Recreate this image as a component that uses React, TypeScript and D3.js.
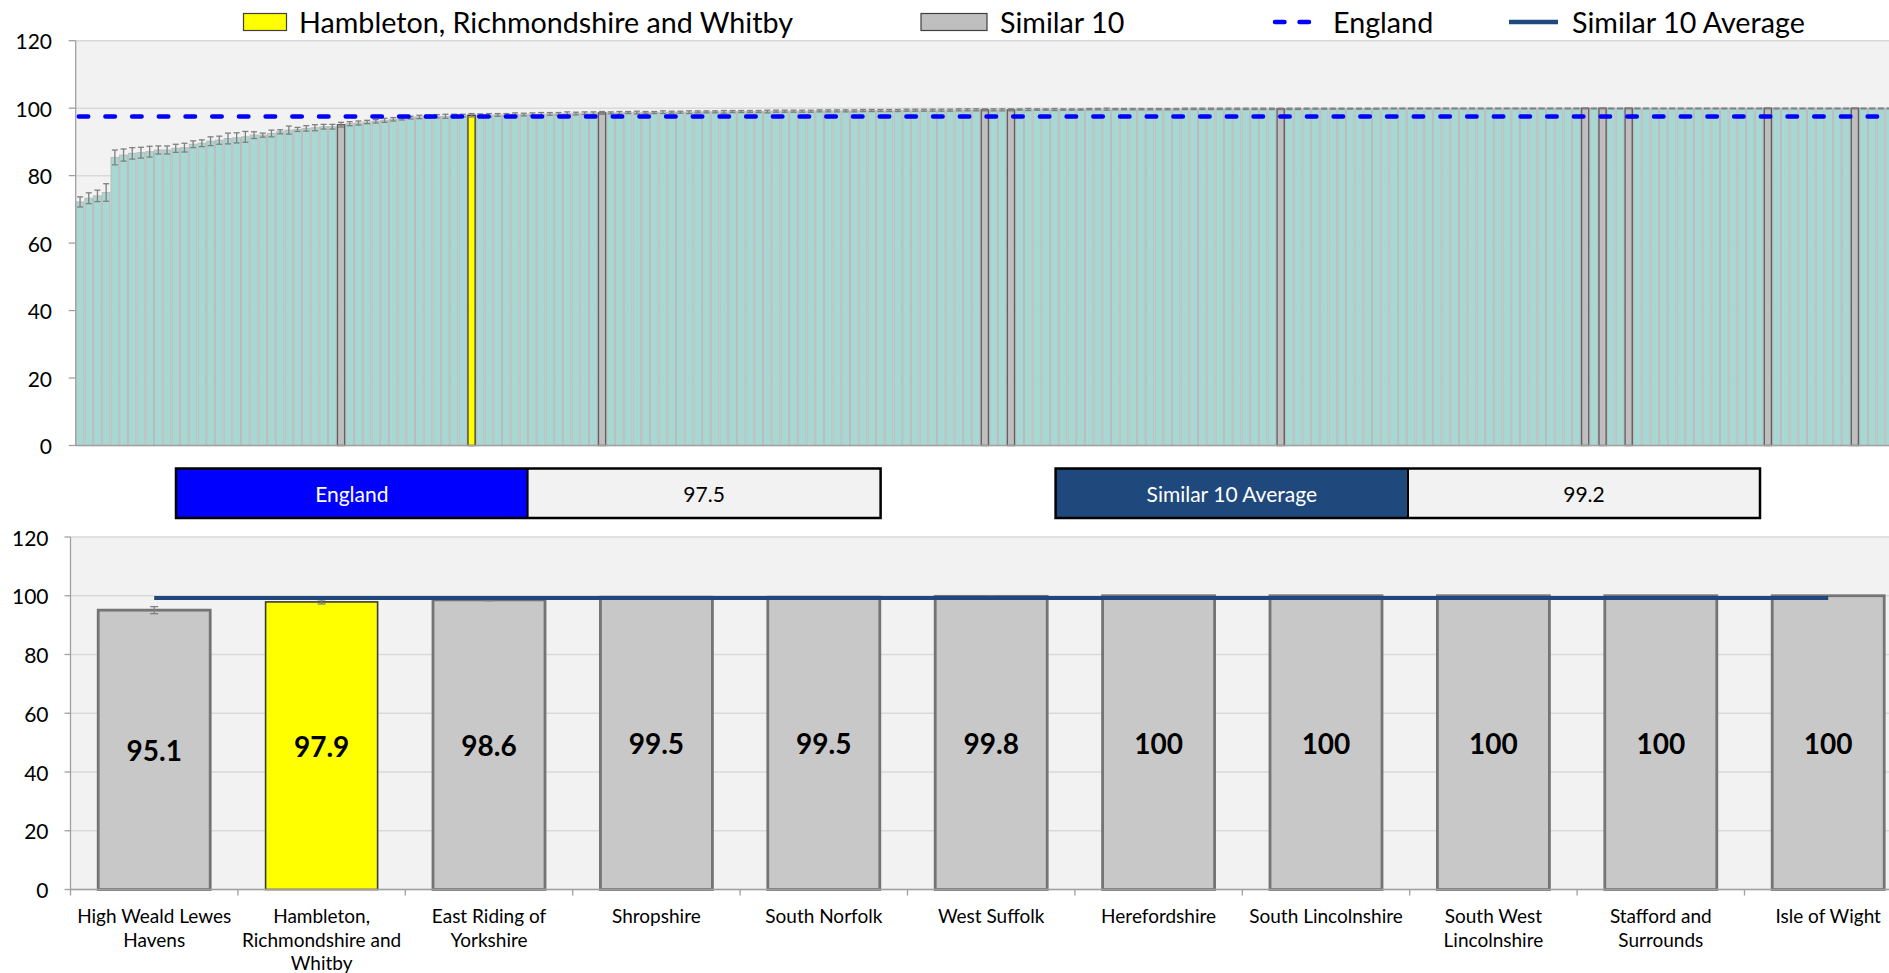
import React from "react";
import * as d3 from "d3";

// ---------- DATA ----------
// Top chart: all areas ranked (values in %)
const topValues: number[] = [
  72.2, 73.3, 74.0, 75.0, 85.4, 86.1, 86.6, 86.8, 87.1, 87.6,
  87.6, 88.1, 88.3, 89.3, 89.6, 90.2, 90.5, 91.0, 91.2, 91.5,
  92.0, 92.0, 92.5, 93.0, 93.5, 93.7, 94.0, 94.2, 94.5, 94.5,
  95.1, 95.4, 95.6, 95.9, 96.1, 96.4, 96.7, 97.0, 97.2, 97.4,
  97.5, 97.6, 97.6, 97.7, 97.8, 97.9, 97.9, 97.9, 98.0, 98.0,
  98.1, 98.1, 98.2, 98.2, 98.3, 98.3, 98.4, 98.4, 98.5, 98.5,
  98.6, 98.6, 98.6, 98.7, 98.7, 98.7, 98.7, 98.8, 98.8, 98.8,
  98.8, 98.9, 98.9, 98.9, 98.9, 99.0, 99.0, 99.0, 99.0, 99.0,
  99.1, 99.1, 99.1, 99.1, 99.1, 99.2, 99.2, 99.2, 99.2, 99.2,
  99.3, 99.3, 99.3, 99.3, 99.3, 99.4, 99.4, 99.4, 99.4, 99.4,
  99.4, 99.5, 99.5, 99.5, 99.5, 99.5, 99.5, 99.5, 99.6, 99.6,
  99.6, 99.6, 99.6, 99.6, 99.6, 99.6, 99.7, 99.7, 99.7, 99.7,
  99.7, 99.7, 99.7, 99.7, 99.7, 99.7, 99.7, 99.8, 99.8, 99.8,
  99.8, 99.8, 99.8, 99.8, 99.8, 99.8, 99.8, 99.8, 99.8, 99.8,
  99.8, 99.9, 99.9, 99.9, 99.9, 99.9, 99.9, 99.9, 99.9, 99.9,
  100, 100, 100, 100, 100, 100, 100, 100, 100, 100,
  100, 100, 100, 100, 100, 100, 100, 100, 100, 100,
  100, 100, 100, 100, 100, 100, 100, 100, 100, 100,
  100, 100, 100, 100, 100, 100, 100, 100, 100, 100,
  100, 100, 100, 100, 100, 100, 100, 100, 100, 100,
  100, 100, 100, 100, 100, 100, 100, 100, 100,
];

// Confidence interval half-widths for top chart
const topErr: number[] = [
  1.5, 1.6, 1.7, 2.6, 2.2, 1.8, 1.7, 1.6, 1.6, 1.2,
  1.2, 1.2, 1.3, 1.0, 1.0, 1.3, 1.2, 1.6, 1.5, 1.6,
  1.0, 0.6, 1.0, 0.6, 1.2, 0.6, 0.8, 0.9, 0.7, 0.7,
  0.7, 0.6, 0.6, 0.5, 0.5, 0.6, 0.5, 0.5, 0.4, 0.5,
  0.4, 0.5, 0.6, 0.5, 0.4, 0.5, 0.4, 0.5, 0.4, 0.4,
  0.5, 0.4, 0.4, 0.5, 0.4, 0.4, 0.5, 0.4, 0.4, 0.4,
  0.4, 0.3, 0.4, 0.3, 0.4, 0.3, 0.3, 0.4, 0.3, 0.3,
  0.4, 0.3, 0.3, 0.3, 0.4, 0.3, 0.3, 0.3, 0.3, 0.4,
  0.3, 0.3, 0.3, 0.3, 0.3, 0.3, 0.3, 0.3, 0.3, 0.3,
  0.3, 0.3, 0.3, 0.3, 0.3, 0.3, 0.3, 0.3, 0.3, 0.3,
  0.3, 0.3, 0.3, 0.3, 0.3, 0.3, 0.3, 0.3, 0.2, 0.3,
  0.2, 0.2, 0.3, 0.2, 0.2, 0.2, 0.2, 0.2, 0.3, 0.2,
  0.2, 0.2, 0.2, 0.2, 0.2, 0.2, 0.2, 0.2, 0.2, 0.2,
  0.2, 0.2, 0.2, 0.2, 0.2, 0.2, 0.2, 0.2, 0.2, 0.2,
  0.2, 0.2, 0.2, 0.2, 0.2, 0.2, 0.2, 0.2, 0.2, 0.2,
  0.2, 0.2, 0.2, 0.2, 0.2, 0.2, 0.2, 0.2, 0.2, 0.2,
  0.2, 0.2, 0.2, 0.2, 0.2, 0.2, 0.2, 0.2, 0.2, 0.2,
  0.2, 0.2, 0.2, 0.2, 0.2, 0.2, 0.2, 0.2, 0.2, 0.2,
  0.2, 0.2, 0.2, 0.2, 0.2, 0.2, 0.2, 0.2, 0.2, 0.2,
  0.2, 0.2, 0.2, 0.2, 0.2, 0.2, 0.2, 0.2, 0.2, 0.2,
  0.2, 0.2, 0.2, 0.2, 0.2, 0.2, 0.2, 0.2, 0.2,
];

// Ranks of the "Similar 10" areas and the highlighted area in the top chart
const similarRanks: number[] = [30, 60, 104, 107, 138, 173, 175, 178, 194, 204];
const highlightRank = 45;

const englandValue = 97.5;
const similarAverage = 99.2;

// Bottom chart
const bottomCategories: string[] = [
  "High Weald Lewes Havens",
  "Hambleton, Richmondshire and Whitby",
  "East Riding of Yorkshire",
  "Shropshire",
  "South Norfolk",
  "West Suffolk",
  "Herefordshire",
  "South Lincolnshire",
  "South West Lincolnshire",
  "Stafford and Surrounds",
  "Isle of Wight",
];
const bottomLabelLines: string[][] = [
  ["High Weald Lewes", "Havens"],
  ["Hambleton,", "Richmondshire and", "Whitby"],
  ["East Riding of", "Yorkshire"],
  ["Shropshire"],
  ["South Norfolk"],
  ["West Suffolk"],
  ["Herefordshire"],
  ["South Lincolnshire"],
  ["South West", "Lincolnshire"],
  ["Stafford and", "Surrounds"],
  ["Isle of Wight"],
];
const bottomValues: number[] = [95.1, 97.9, 98.6, 99.5, 99.5, 99.8, 100, 100, 100, 100, 100];
const bottomErr: number[] = [1.2, 0.7, 0.3, 0.1, 0.1, 0.1, 0, 0, 0, 0, 0];
const bottomHighlight = "Hambleton, Richmondshire and Whitby";

const yTicks: number[] = [0, 20, 40, 60, 80, 100, 120];

const legendItems = [
  { label: "Hambleton, Richmondshire and Whitby", kind: "yellow" },
  { label: "Similar 10", kind: "grey" },
  { label: "England", kind: "dash" },
  { label: "Similar 10 Average", kind: "line" },
];

// ---------- STYLE ----------
const FONT = "Lato, 'Open Sans', 'DejaVu Sans', sans-serif";
const C = {
  plotBg: "#F2F2F2",
  grid: "#D9D9D9",
  axis: "#A0A0A0",
  teal: "#A8D8D3",
  tealStroke: "#BBBBBB",
  grey: "#BFBFBF",
  greyStroke: "#5F5F5F",
  yellow: "#FFFF00",
  err: "#7F7F7F",
  england: "#0000FF",
  avg: "#1F497D",
};

export default function App() {
  const W = 1889;
  const H = 973;

  // ---- top chart scales ----
  const N = topValues.length;
  const topX0 = 75.7;
  const topStep = 8.7;
  const xTop = d3
    .scaleBand<number>()
    .domain(d3.range(N))
    .range([topX0, topX0 + N * topStep])
    .padding(0);
  const yTop = d3.scaleLinear().domain([0, 120]).range([445.5, 40.7]);

  // ---- bottom chart scales ----
  const botX0 = 70.5;
  const botStep = 167.4;
  const pi = (botStep - 112) / botStep;
  const xBot = d3
    .scaleBand<string>()
    .domain(bottomCategories)
    .range([botX0, botX0 + bottomCategories.length * botStep])
    .paddingInner(pi)
    .paddingOuter(pi / 2);
  const yBot = d3.scaleLinear().domain([0, 120]).range([889.5, 537]);

  const similarSet = new Set(similarRanks);

  const legendPos = [
    { sx: 243.5, tx: 299 },
    { sx: 921, tx: 1000 },
    { sx: 1273, tx: 1333 },
    { sx: 1509, tx: 1572 },
  ];

  return (
    <svg
      width={W}
      height={H}
      style={{ position: "fixed", left: 0, top: 0, background: "#fff" }}
      fontFamily={FONT}
    >
      {/* ================= LEGEND ================= */}
      {legendItems.map((it, i) => {
        const p = legendPos[i];
        const cy = 22;
        let sw: React.ReactNode = null;
        if (it.kind === "yellow")
          sw = <rect x={p.sx} y={13.5} width={43} height={17} fill={C.yellow} stroke="#404040" strokeWidth={1.2} />;
        else if (it.kind === "grey")
          sw = <rect x={p.sx} y={13.5} width={66} height={17} fill={C.grey} stroke="#404040" strokeWidth={1.2} />;
        else if (it.kind === "dash")
          sw = (
            <line x1={p.sx + 2} x2={p.sx + 46} y1={cy} y2={cy} stroke={C.england} strokeWidth={4.5}
              strokeDasharray="9.5,15" strokeLinecap="round" />
          );
        else sw = <line x1={p.sx} x2={p.sx + 49} y1={cy} y2={cy} stroke={C.avg} strokeWidth={4.5} />;
        return (
          <g key={it.label}>
            {sw}
            <text x={p.tx} y={cy} dominantBaseline="central" fontSize={28.7} fill="#000">
              {it.label}
            </text>
          </g>
        );
      })}

      {/* ================= TOP CHART ================= */}
      <rect x={topX0} y={yTop(120)} width={W - topX0} height={yTop(0) - yTop(120)} fill={C.plotBg} />
      {yTicks.map((t) => (
        <line key={"tg" + t} x1={topX0} x2={W} y1={yTop(t)} y2={yTop(t)} stroke={C.grid} strokeWidth={1.5} />
      ))}
      {topValues.map((v, i) => {
        const x = xTop(i)!;
        const w = xTop.bandwidth();
        const isSim = similarSet.has(i);
        const isHi = i === highlightRank;
        if (isSim || isHi) return null;
        return (
          <rect key={"tb" + i} x={x + 0.5} y={yTop(v)} width={w - 1} height={yTop(0) - yTop(v)}
            fill={C.teal} stroke={C.tealStroke} strokeWidth={1} />
        );
      })}
      {topValues.map((v, i) => {
        const isSim = similarSet.has(i);
        const isHi = i === highlightRank;
        if (!isSim && !isHi) return null;
        const x = xTop(i)!;
        const w = xTop.bandwidth();
        return (
          <rect key={"th" + i} x={x + 0.75} y={yTop(v)} width={w - 1.5} height={yTop(0) - yTop(v)}
            fill={isHi ? C.yellow : C.grey} stroke={isHi ? "#404040" : C.greyStroke} strokeWidth={1.4} />
        );
      })}
      {/* error bars */}
      {topValues.map((v, i) => {
        const cx = xTop(i)! + xTop.bandwidth() / 2;
        const hi = Math.min(100, v + topErr[i]);
        const lo = v - topErr[i];
        const yh = yTop(hi);
        const yl = yTop(lo);
        return (
          <g key={"te" + i} stroke={C.err} strokeWidth={1.3}>
            <line x1={cx} x2={cx} y1={yh} y2={yl} />
            <line x1={cx - 3} x2={cx + 3} y1={yh} y2={yh} />
            <line x1={cx - 3} x2={cx + 3} y1={yl} y2={yl} />
          </g>
        );
      })}
      {/* England line */}
      <line x1={topX0 + 3} x2={W} y1={yTop(englandValue)} y2={yTop(englandValue)} stroke={C.england}
        strokeWidth={4.5} strokeDasharray="9.5,17.2" strokeLinecap="round" />
      {/* axes */}
      <line x1={topX0} x2={topX0} y1={yTop(0)} y2={yTop(120)} stroke={C.axis} strokeWidth={1.3} />
      <line x1={topX0} x2={W} y1={yTop(0)} y2={yTop(0)} stroke={C.axis} strokeWidth={1.3} />
      {yTicks.map((t) => (
        <g key={"tt" + t}>
          <line x1={topX0 - 7} x2={topX0} y1={yTop(t)} y2={yTop(t)} stroke={C.axis} strokeWidth={1.3} />
          <text x={52} y={yTop(t)} textAnchor="end" dominantBaseline="central" fontSize={21} fill="#000">
            {t}
          </text>
        </g>
      ))}

      {/* ================= SUMMARY BOXES ================= */}
      <g>
        <rect x={176} y={468.5} width={351.6} height={49.5} fill={C.england} />
        <rect x={527.6} y={468.5} width={353} height={49.5} fill={C.plotBg} />
        <rect x={176} y={468.5} width={704.6} height={49.5} fill="none" stroke="#000" strokeWidth={2.5} />
        <line x1={527.6} x2={527.6} y1={468.5} y2={518} stroke="#000" strokeWidth={2} />
        <text x={(176 + 527.6) / 2} y={493.5} textAnchor="middle" dominantBaseline="central" fontSize={21} fill="#fff">
          England
        </text>
        <text x={(527.6 + 880.6) / 2} y={493.5} textAnchor="middle" dominantBaseline="central" fontSize={21} fill="#000">
          {englandValue.toFixed(1)}
        </text>

        <rect x={1055.6} y={468.5} width={352.4} height={49.5} fill={C.avg} />
        <rect x={1408} y={468.5} width={352} height={49.5} fill={C.plotBg} />
        <rect x={1055.6} y={468.5} width={704.4} height={49.5} fill="none" stroke="#000" strokeWidth={2.5} />
        <line x1={1408} x2={1408} y1={468.5} y2={518} stroke="#000" strokeWidth={2} />
        <text x={(1055.6 + 1408) / 2} y={493.5} textAnchor="middle" dominantBaseline="central" fontSize={21} fill="#fff">
          Similar 10 Average
        </text>
        <text x={(1408 + 1760) / 2} y={493.5} textAnchor="middle" dominantBaseline="central" fontSize={21} fill="#000">
          {similarAverage.toFixed(1)}
        </text>
      </g>

      {/* ================= BOTTOM CHART ================= */}
      <rect x={botX0} y={yBot(120)} width={W - botX0} height={yBot(0) - yBot(120)} fill={C.plotBg} />
      {yTicks.map((t) => (
        <line key={"bg" + t} x1={botX0} x2={W} y1={yBot(t)} y2={yBot(t)} stroke={C.grid} strokeWidth={1.5} />
      ))}
      {bottomCategories.map((c, i) => {
        const v = bottomValues[i];
        const x = xBot(c)!;
        const w = xBot.bandwidth();
        const hi = c === bottomHighlight;
        return (
          <rect key={"bb" + c} x={x} y={yBot(v)} width={w} height={yBot(0) - yBot(v)}
            fill={hi ? C.yellow : "#C8C8C8"} stroke={hi ? "#3A3A3A" : "#747474"} strokeWidth={hi ? 1.6 : 2.8} />
        );
      })}
      {bottomCategories.map((c, i) => {
        const v = bottomValues[i];
        const e = bottomErr[i];
        if (e <= 0) return null;
        const cx = xBot(c)! + xBot.bandwidth() / 2;
        const yh = yBot(Math.min(100, v + e));
        const yl = yBot(v - e);
        return (
          <g key={"be" + c} stroke={C.err} strokeWidth={1.3}>
            <line x1={cx} x2={cx} y1={yh} y2={yl} />
            <line x1={cx - 4} x2={cx + 4} y1={yh} y2={yh} />
            <line x1={cx - 4} x2={cx + 4} y1={yl} y2={yl} />
          </g>
        );
      })}
      {/* Similar 10 average line */}
      <line
        x1={xBot(bottomCategories[0])! + xBot.bandwidth() / 2}
        x2={xBot(bottomCategories[bottomCategories.length - 1])! + xBot.bandwidth() / 2}
        y1={yBot(similarAverage)}
        y2={yBot(similarAverage)}
        stroke={C.avg}
        strokeWidth={4}
      />
      {/* value labels */}
      {bottomCategories.map((c, i) => {
        const v = bottomValues[i];
        const cx = xBot(c)! + xBot.bandwidth() / 2;
        return (
          <text key={"bv" + c} x={cx} y={yBot(v / 2)} textAnchor="middle" dominantBaseline="central"
            fontSize={28} fontWeight="bold" fill="#000">
            {String(v)}
          </text>
        );
      })}
      {/* axes */}
      <line x1={botX0} x2={botX0} y1={yBot(0)} y2={yBot(120)} stroke={C.axis} strokeWidth={1.3} />
      <line x1={botX0} x2={W} y1={yBot(0)} y2={yBot(0)} stroke={C.axis} strokeWidth={1.3} />
      {yTicks.map((t) => (
        <g key={"bt" + t}>
          <line x1={botX0 - 6} x2={botX0} y1={yBot(t)} y2={yBot(t)} stroke={C.axis} strokeWidth={1.3} />
          <text x={48.5} y={yBot(t)} textAnchor="end" dominantBaseline="central" fontSize={21} fill="#000">
            {t}
          </text>
        </g>
      ))}
      {bottomCategories.map((c, i) => {
        const bx = botX0 + i * botStep;
        return (
          <line key={"bct" + c} x1={bx} x2={bx} y1={yBot(0)} y2={yBot(0) + 6} stroke={C.axis} strokeWidth={1.3} />
        );
      })}
      {bottomCategories.map((c, i) => {
        const cx = xBot(c)! + xBot.bandwidth() / 2;
        return (
          <text key={"bl" + c} x={cx} textAnchor="middle" fontSize={19} fill="#000">
            {bottomLabelLines[i].map((ln, k) => (
              <tspan key={k} x={cx} y={923 + k * 23.5}>
                {ln}
              </tspan>
            ))}
          </text>
        );
      })}
    </svg>
  );
}
